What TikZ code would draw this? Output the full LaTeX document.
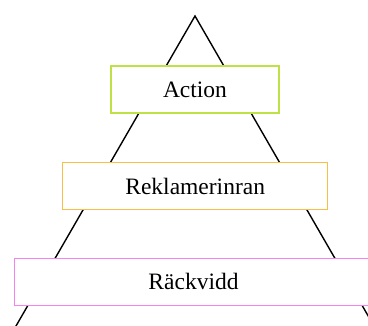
\documentclass[tikz,border=0pt]{standalone}
\usepackage{fontspec}
\setmainfont{Liberation Serif}
\usepackage{tikz}

\definecolor{actgreen}{RGB}{190,226,70}
\definecolor{remorange}{RGB}{250,190,70}
\definecolor{reachpink}{RGB}{245,130,245}

\begin{document}
\begin{tikzpicture}[x=1pt,y=-1pt]
\tikzstyle{every node}+=[inner sep=0pt]
\tikzstyle{level}=[draw,fill=white,line width=1.3pt,minimum height=47pt,font=\fontsize{23.5}{28}\selectfont]
\useasboundingbox (0,0) rectangle (368,326);
\clip (0,0) rectangle (368,326);
\coordinate (top) at (195,16);
\coordinate (left) at (10,336.4);
\coordinate (right) at (380,336.4);
\draw [black,line width=1.4pt] (left) -- (top) -- (right);
\node [level,draw=actgreen,minimum width=168pt] (action) at (195,89.4) {Action};
\node [level,draw=remorange,minimum width=265pt] (remind) at (195.2,186) {Reklamerinran};
\node [level,draw=reachpink,minimum width=358pt] (reach) at (193.5,281.7) {Räckvidd};
\end{tikzpicture}
\end{document}
